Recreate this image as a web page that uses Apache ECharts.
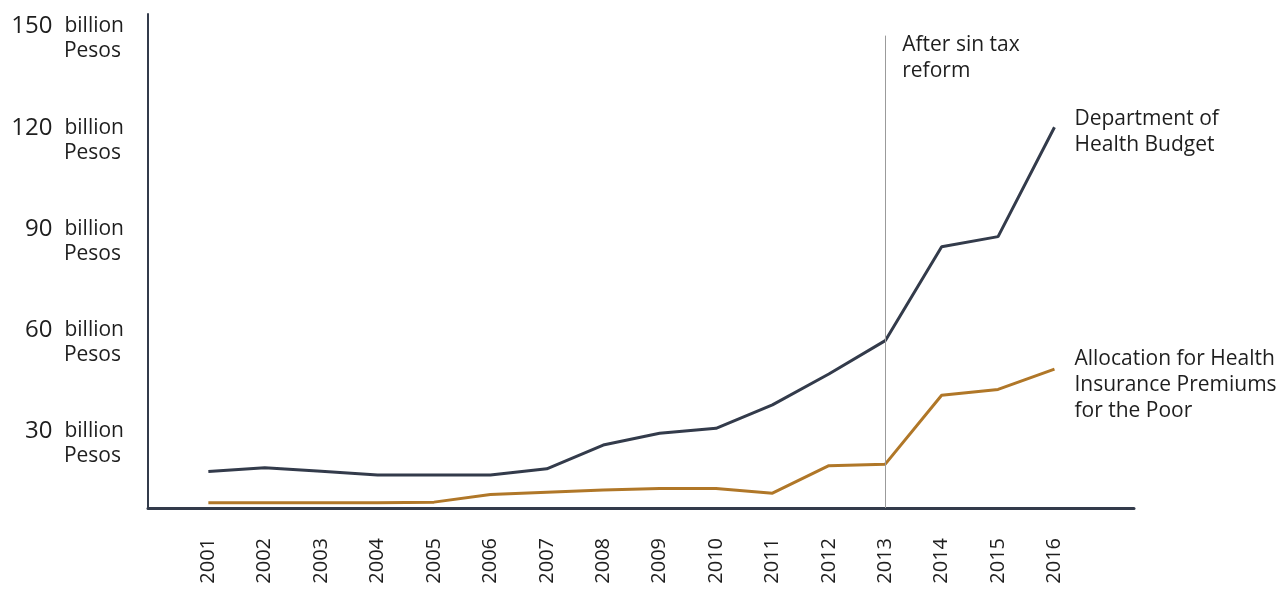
<!DOCTYPE html>
<html>
<head>
<meta charset="utf-8">
<title>Health budget after sin tax reform</title>
<script src="https://cdn.jsdelivr.net/npm/echarts@6/dist/echarts.min.js"></script>
<style>
  html, body { margin: 0; padding: 0; background: #fff; }
  #chart { width: 1284px; height: 592px; }
</style>
</head>
<body>
<div id="chart"></div>
<script>
// values in billion pesos
const years = [2001, 2002, 2003, 2004, 2005, 2006, 2007, 2008, 2009, 2010, 2011, 2012, 2013, 2014, 2015, 2016]
const dohBudget = [11.8, 13.0, 11.9, 10.7, 10.7, 10.7, 12.7, 20.4, 24.2, 25.8, 33.4, 43.4, 54.2, 84.6, 87.9, 123.3]
const premiums = [1.7, 1.7, 1.7, 1.7, 1.9, 4.4, 5.1, 5.8, 6.3, 6.3, 4.8, 13.7, 14.2, 36.5, 38.4, 45.0]
const yTicks = [30, 60, 90, 120, 150]
const reformYear = 2013

const dark = '#333b4b'
const gold = '#b07728'
const textColor = '#1e1e1e'
const font = 'Open Sans'

const chart = echarts.init(document.getElementById('chart'))

const option = {
  animation: false,
  textStyle: { fontFamily: font },
  grid: [
    // plot area
    { left: 148, right: 150, top: 14, bottom: 84, outerBoundsMode: 'none', containLabel: false },
    // grid that only carries the y tick labels (they sit a bit off the data scale in the original)
    { left: 148, right: 150, top: 39, bottom: 47, outerBoundsMode: 'none', containLabel: false }
  ],
  xAxis: [
    {
      type: 'value',
      gridIndex: 0,
      min: 1999.93,
      max: 2017.41,
      axisLine: { show: true, onZero: false, lineStyle: { color: dark, width: 3 } },
      axisTick: { show: false },
      splitLine: { show: false },
      axisLabel: {
        customValues: years,
        rotate: 90,
        margin: 30,
        fontSize: 20,
        color: textColor,
        fontFamily: font,
        formatter: v => String(v)
      }
    },
    { type: 'value', gridIndex: 1, show: false, min: 0, max: 1 }
  ],
  yAxis: [
    {
      type: 'value',
      gridIndex: 0,
      min: 0,
      max: 160,
      axisLine: { show: true, lineStyle: { color: dark, width: 2 } },
      axisTick: { show: false },
      splitLine: { show: false },
      axisLabel: { show: false }
    },
    {
      type: 'value',
      gridIndex: 1,
      min: 0,
      max: 150,
      interval: 30,
      axisLine: { show: false },
      axisTick: { show: false },
      splitLine: { show: false },
      axisLabel: {
        margin: 24,
        // "Pesos" gets a little right padding so its left edge lines up under "billion"
        formatter: v => yTicks.indexOf(v) < 0 ? '' : '{n|' + v + '}{u|billion}\n{p|Pesos}',
        rich: {
          n: { fontSize: 24, padding: [0, 12, 0, 0], lineHeight: 25, color: textColor, fontFamily: font },
          u: { fontSize: 21, lineHeight: 25, color: textColor, fontFamily: font },
          p: { fontSize: 21, lineHeight: 25, padding: [0, 3, 0, 0], color: textColor, fontFamily: font }
        }
      }
    }
  ],
  series: [
    {
      name: 'Department of Health Budget',
      type: 'line',
      xAxisIndex: 0,
      yAxisIndex: 0,
      data: years.map((y, i) => [y, dohBudget[i]]),
      symbol: 'none',
      lineStyle: { color: dark, width: 3 },
      itemStyle: { color: dark },
      endLabel: {
        show: true,
        distance: 20,
        offset: [0, 5],
        formatter: 'Department of\nHealth Budget',
        fontSize: 21,
        lineHeight: 26,
        color: textColor,
        fontFamily: font
      },
      markLine: {
        silent: true,
        symbol: 'none',
        label: { show: false },
        lineStyle: { color: '#9b9b9b', width: 1, type: 'solid' },
        data: [[{ coord: [reformYear, 0] }, { coord: [reformYear, 153] }]]
      },
      markPoint: {
        silent: true,
        symbol: 'circle',
        symbolSize: 0,
        data: [{ coord: [reformYear, 153] }],
        label: {
          show: true,
          position: 'right',
          distance: 17,
          offset: [0, 22],
          formatter: 'After sin tax\nreform',
          fontSize: 21,
          lineHeight: 26,
          color: textColor,
          fontFamily: font
        }
      }
    },
    {
      name: 'Allocation for Health Insurance Premiums for the Poor',
      type: 'line',
      xAxisIndex: 0,
      yAxisIndex: 0,
      data: years.map((y, i) => [y, premiums[i]]),
      symbol: 'none',
      lineStyle: { color: gold, width: 3 },
      itemStyle: { color: gold },
      endLabel: {
        show: true,
        distance: 20,
        offset: [0, 16],
        formatter: 'Allocation for Health\nInsurance Premiums\nfor the Poor',
        fontSize: 21,
        lineHeight: 26,
        color: textColor,
        fontFamily: font
      }
    }
  ]
}

chart.setOption(option)
</script>
</body>
</html>
